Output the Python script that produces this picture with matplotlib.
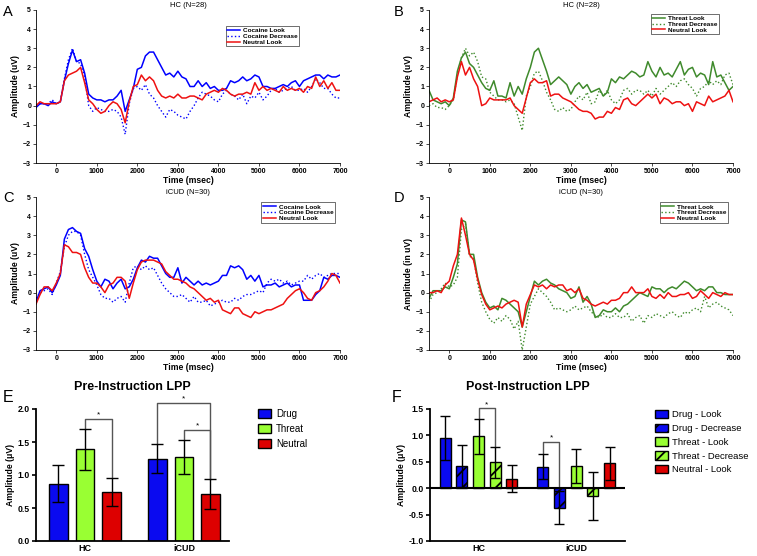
import numpy as np
import matplotlib
matplotlib.use("Agg")
import matplotlib.pyplot as plt
from matplotlib.patches import Patch

plt.rcParams["font.family"] = ["Liberation Sans", "DejaVu Sans"]
plt.rcParams["hatch.linewidth"] = 1.3

# sample times of the ERP waveforms (msec)
TIME_MS = list(range(-500, 7001, 100))

# panel A - HC, cocaine
A_COC_LOOK = [-0.1, 0.1, 0.1, 0.0, 0.2, 0.1, 0.2, 1.3, 2.2, 2.9,
              2.3, 2.4, 1.7, 0.6, 0.4, 0.3, 0.3, 0.2, 0.3, 0.3,
              0.5, 0.8, -0.3, 0.3, 0.9, 1.9, 2.0, 2.6, 2.8, 2.8,
              2.4, 2.0, 1.6, 1.7, 1.5, 1.8, 1.5, 1.4, 1.0, 1.0,
              1.3, 1.0, 1.2, 0.9, 1.0, 0.8, 0.8, 0.9, 1.3, 1.2,
              1.3, 1.5, 1.3, 1.4, 1.6, 1.5, 1.0, 1.0, 0.9, 0.9,
              1.0, 1.1, 1.0, 1.2, 1.3, 1.0, 1.3, 1.4, 1.5, 1.6,
              1.6, 1.4, 1.6, 1.5, 1.5, 1.6]
A_COC_DEC = [0.0, 0.1, 0.1, 0.1, 0.3, 0.1, 0.2, 1.4, 2.4, 3.0,
             2.3, 2.2, 1.5, 0.0, -0.3, -0.1, -0.2, -0.3, -0.3, -0.2,
             -0.3, -0.6, -1.5, 0.1, 0.9, 1.0, 0.8, 1.1, 0.6, 0.4,
             0.0, -0.3, -0.6, -0.2, -0.3, -0.5, -0.6, -0.7, -0.3, 0.0,
             0.4, 0.7, 0.6, 0.5, 0.3, 0.2, 0.6, 0.8, 0.6, 0.5,
             0.3, 0.6, 0.1, 0.5, 0.4, 0.7, 0.3, 0.5, 0.8, 0.9,
             0.7, 0.8, 0.9, 1.0, 0.8, 0.8, 0.9, 0.7, 1.0, 1.4,
             1.2, 0.9, 0.9, 0.6, 0.4, 0.4]
A_NEU_LOOK = [0.0, 0.2, 0.1, 0.1, 0.1, 0.1, 0.2, 1.3, 1.6, 1.7,
              1.8, 2.0, 1.2, 0.3, 0.1, -0.2, -0.4, -0.3, 0.0, 0.2,
              0.1, -0.2, -0.9, 0.2, 1.0, 1.1, 1.6, 1.3, 1.5, 1.3,
              0.8, 0.5, 0.4, 0.5, 0.4, 0.6, 0.4, 0.4, 0.5, 0.5,
              0.4, 0.3, 0.6, 0.7, 0.8, 0.7, 0.9, 0.8, 0.6, 0.5,
              0.6, 0.6, 0.7, 0.6, 1.2, 0.8, 1.0, 0.8, 0.9, 0.8,
              0.7, 1.0, 0.8, 0.9, 0.8, 0.9, 0.7, 1.0, 0.9, 1.5,
              1.0, 1.3, 0.9, 1.2, 0.8, 0.8]

# panel B - HC, threat
B_THR_LOOK = [0.8, 0.3, 0.2, 0.1, 0.2, 0.0, 0.4, 1.8, 2.5, 2.8,
              2.2, 2.0, 1.6, 1.2, 0.9, 0.8, 1.3, 0.5, 0.5, 0.4,
              1.2, 0.5, 1.0, 0.6, 1.4, 2.0, 2.8, 3.0, 2.4, 1.8,
              1.1, 1.3, 1.5, 1.3, 1.1, 0.6, 1.0, 1.2, 0.9, 1.1,
              0.7, 0.8, 0.9, 0.5, 0.7, 1.4, 1.2, 1.5, 1.4, 1.6,
              1.8, 1.7, 1.5, 1.6, 2.3, 1.8, 1.5, 2.0, 1.6, 1.7,
              1.5, 1.9, 2.3, 1.6, 1.9, 2.0, 1.5, 1.7, 1.6, 1.1,
              2.3, 1.5, 1.6, 1.2, 0.8, 1.0]
B_THR_DEC = [0.0, 0.1, -0.1, -0.1, -0.2, 0.0, 0.3, 1.6, 2.5, 3.0,
             2.6, 2.8, 2.3, 1.5, 1.4, 0.7, 0.5, 0.3, 0.3, 0.2,
             0.3, 0.1, -0.6, -1.3, 0.5, 1.0, 1.7, 1.8, 1.3, 0.7,
             0.3, -0.2, -0.3, -0.1, -0.3, -0.2, 0.2, 0.5, 0.3, 0.7,
             0.1, 0.2, 0.8, 0.5, 0.8, 0.3, 0.1, 0.3, 0.8, 0.9,
             0.6, 0.8, 0.8, 0.6, 0.8, 0.5, 0.9, 0.6, 0.8, 1.0,
             1.2, 1.0, 1.3, 1.4, 1.1, 0.9, 0.5, 0.9, 1.0, 1.3,
             1.1, 1.3, 1.1, 1.6, 1.7, 1.1]
B_NEU_LOOK = [0.2, 0.3, 0.4, 0.2, 0.3, 0.2, 0.3, 1.5, 2.3, 1.6,
              2.0, 1.4, 1.0, 0.0, 0.1, 0.4, 0.3, 0.3, 0.3, 0.3,
              0.4, 0.0, -0.2, -0.4, 0.4, 1.2, 1.4, 1.2, 1.2, 1.3,
              0.5, 0.6, 0.6, 0.4, 0.3, 0.2, 0.0, -0.2, -0.3, -0.3,
              -0.4, -0.7, -0.6, -0.6, -0.3, -0.4, -0.1, -0.2, 0.3, 0.4,
              0.1, 0.0, 0.2, 0.4, 0.6, 0.4, 0.6, 0.1, 0.4, 0.3,
              0.1, 0.2, 0.2, 0.0, 0.1, -0.3, 0.2, 0.1, 0.0, 0.5,
              0.2, 0.3, 0.4, 0.5, 0.8, 0.2]

# panel C - iCUD, cocaine
C_COC_LOOK = [-0.5, 0.1, 0.2, 0.3, 0.0, 0.4, 0.9, 2.8, 3.3, 3.4,
              3.2, 3.1, 2.3, 1.9, 1.2, 0.6, 0.3, 0.7, 0.6, 0.2,
              0.5, 0.7, 0.2, 0.3, 0.7, 1.3, 1.7, 1.6, 1.9, 1.8,
              1.8, 1.4, 1.0, 0.8, 0.8, 1.3, 0.5, 0.8, 0.6, 0.4,
              0.6, 0.4, 0.5, 0.4, 0.5, 0.6, 0.9, 0.9, 1.4, 1.3,
              1.4, 1.2, 0.7, 0.9, 0.6, 0.9, 0.3, 0.4, 0.4, 0.5,
              0.3, 0.4, 0.5, 0.3, 0.4, 0.4, -0.4, -0.4, -0.4, -0.1,
              0.1, 0.8, 0.7, 0.9, 0.9, 0.8]
C_COC_DEC = [-0.3, 0.0, 0.1, 0.2, -0.1, 0.5, 1.1, 2.4, 3.0, 3.2,
             3.2, 3.0, 2.0, 1.2, 0.8, 0.4, -0.1, -0.3, -0.3, -0.5,
             -0.3, -0.2, -0.5, 0.5, 1.3, 1.4, 1.2, 1.4, 1.2, 1.3,
             0.9, 0.5, 0.2, 0.0, -0.2, -0.2, -0.1, -0.3, -0.5, -0.2,
             -0.5, -0.5, -0.4, -0.7, -0.6, -0.5, -0.4, -0.5, -0.5, -0.3,
             -0.4, -0.2, -0.1, -0.1, 0.0, 0.1, 0.0, 0.5, 0.7, 0.6,
             0.7, 0.5, 0.6, 0.4, 0.5, 0.6, 0.6, 0.9, 0.7, 0.9,
             1.0, 0.8, 0.9, 1.0, 1.0, 1.0]
C_NEU_LOOK = [-0.6, -0.1, 0.3, 0.3, 0.1, 0.5, 1.0, 2.5, 2.4, 2.1,
              2.1, 2.0, 1.3, 0.8, 0.5, 0.5, 0.3, 0.0, 0.4, 0.5,
              0.8, 0.8, 0.6, -0.3, 0.5, 1.2, 1.6, 1.7, 1.7, 1.7,
              1.6, 1.5, 1.1, 0.9, 0.7, 0.7, 0.6, 0.5, 0.3, 0.2,
              0.0, -0.2, -0.4, -0.3, -0.5, -0.4, -0.9, -1.0, -1.1, -0.8,
              -0.8, -1.1, -1.2, -1.3, -1.0, -1.1, -1.0, -0.9, -0.9, -0.8,
              -0.7, -0.6, -0.3, -0.1, 0.1, 0.2, 0.0, -0.3, -0.4, 0.0,
              0.1, 0.3, 0.6, 1.0, 0.9, 0.5]

# panel D - iCUD, threat
D_THR_LOOK = [-0.3, 0.1, 0.1, 0.1, 0.3, 0.2, 0.8, 1.5, 3.8, 3.7,
              2.0, 2.0, 0.8, 0.0, -0.5, -0.8, -0.7, -0.9, -0.3, -0.4,
              -0.6, -0.8, -1.0, -1.8, -1.0, -0.2, 0.6, 0.4, 0.6, 0.7,
              0.5, 0.4, 0.2, 0.1, 0.0, -0.3, -0.2, 0.3, -0.5, -0.2,
              -0.6, -1.3, -1.2, -0.9, -1.0, -1.0, -0.8, -1.0, -0.7, -0.6,
              -0.4, -0.2, 0.0, -0.1, -0.2, 0.3, 0.2, 0.2, 0.0, 0.2,
              0.3, 0.2, 0.4, 0.6, 0.5, 0.3, 0.1, 0.2, 0.1, 0.3,
              0.3, 0.0, 0.0, -0.1, -0.1, -0.1]
D_THR_DEC = [-0.5, -0.1, 0.0, 0.2, 0.5, 0.3, 0.4, 0.8, 3.3, 3.6,
             1.9, 1.8, 0.5, -0.5, -1.0, -1.4, -1.6, -1.3, -1.5, -1.2,
             -1.4, -1.9, -1.5, -3.0, -1.8, -0.6, -0.2, 0.2, 0.0, -0.2,
             -0.5, -0.9, -0.8, -0.9, -1.0, -0.9, -0.7, -0.9, -0.8, -0.7,
             -1.0, -1.2, -1.3, -1.1, -1.3, -1.3, -1.1, -1.3, -1.3, -1.1,
             -1.5, -1.3, -1.2, -1.6, -1.2, -1.3, -1.1, -1.2, -1.3, -1.1,
             -1.0, -1.2, -1.3, -1.0, -1.1, -0.9, -0.8, -1.0, -0.2, -0.8,
             -0.6, -0.5, -0.7, -0.8, -0.9, -1.2]
D_NEU_LOOK = [0.0, 0.0, 0.1, 0.0, 0.4, 0.6, 1.4, 2.0, 3.9, 3.0,
              2.0, 1.7, 0.7, -0.1, -0.6, -0.9, -0.8, -0.7, -0.8, -0.6,
              -0.5, -0.4, -0.5, -1.8, -0.6, -0.1, 0.4, 0.3, 0.4, 0.2,
              0.4, 0.3, 0.4, 0.4, 0.1, 0.2, 0.0, 0.2, -0.3, -0.4,
              -0.6, -0.7, -0.6, -0.5, -0.6, -0.4, -0.4, -0.3, 0.0, 0.0,
              0.3, 0.0, 0.0, 0.0, 0.2, -0.2, -0.3, -0.1, -0.3, 0.0,
              -0.2, -0.2, -0.1, -0.1, 0.0, -0.3, -0.2, 0.1, -0.1, -0.3,
              0.0, -0.1, -0.2, 0.0, -0.1, -0.1]

# bar panels
GROUPS = ["HC", "iCUD"]
PRE_LABELS = ["Drug", "Threat", "Neutral"]
PRE_MEAN = {"HC": [0.87, 1.39, 0.74], "iCUD": [1.25, 1.27, 0.71]}
PRE_SEM = {"HC": [0.28, 0.31, 0.21], "iCUD": [0.22, 0.26, 0.23]}

POST_LABELS = ["Drug - Look", "Drug - Decrease", "Threat - Look",
               "Threat - Decrease", "Neutral - Look"]
POST_MEAN = {"HC": [0.95, 0.42, 0.98, 0.49, 0.18],
             "iCUD": [0.41, -0.37, 0.42, -0.15, 0.47]}
POST_SEM = {"HC": [0.41, 0.39, 0.34, 0.29, 0.25],
            "iCUD": [0.24, 0.31, 0.32, 0.46, 0.31]}

BLUE = "#0000ff"
RED = "#ee1111"
GREEN = "#3f8a2c"
BAR_BLUE = "#0a0af0"
BAR_GREEN = "#99ff33"
BAR_RED = "#dd0000"

W, H = 757, 556
fig = plt.figure(figsize=(W / 100, H / 100), dpi=100)
fig.patch.set_facecolor("white")


def px_axes(x0, y0, x1, y1):
    return fig.add_axes([x0 / W, 1 - y1 / H, (x1 - x0) / W, (y1 - y0) / H])


def erp_panel(ax, title, traces, ylabel, leg_anchor):
    t = np.array(TIME_MS)
    for vals, color, ls, lab in traces:
        ax.plot(t, vals, color=color, ls=ls, lw=1.1 if ls == "-" else 1.0, label=lab)
    ax.set_xlim(-500, 7000)
    ax.set_ylim(-3, 5)
    ax.set_xticks(range(0, 7001, 1000))
    ax.set_yticks(range(-3, 6))
    for s in ("top", "right"):
        ax.spines[s].set_visible(False)
    for s in ("left", "bottom"):
        ax.spines[s].set_linewidth(0.6)
    ax.tick_params(labelsize=5.0, length=2, width=0.5, pad=1.5)
    for lab in ax.get_xticklabels() + ax.get_yticklabels():
        lab.set_fontweight("bold")
    ax.set_title(title, fontsize=5.5, pad=2)
    ax.set_xlabel("Time (msec)", fontsize=6.2, fontweight="bold", labelpad=1)
    ax.set_ylabel(ylabel, fontsize=6.2, fontweight="bold", labelpad=2)
    leg = ax.legend(loc="upper right", bbox_to_anchor=leg_anchor, fontsize=4.6,
                    frameon=True, fancybox=False, handlelength=2.0,
                    borderpad=0.25, labelspacing=0.05, handletextpad=0.5)
    leg.get_frame().set_edgecolor("black")
    leg.get_frame().set_linewidth(0.5)
    for txt in leg.get_texts():
        txt.set_fontweight("bold")


axA = px_axes(36, 10, 340, 163)
erp_panel(axA, "HC (N=28)",
          [(A_COC_LOOK, BLUE, "-", "Cocaine Look"),
           (A_COC_DEC, BLUE, ":", "Cocaine Decrease"),
           (A_NEU_LOOK, RED, "-", "Neutral Look")],
          "Amplitude (uV)", (0.877, 0.915))

axB = px_axes(429, 10, 733, 163)
erp_panel(axB, "HC (N=28)",
          [(B_THR_LOOK, GREEN, "-", "Threat Look"),
           (B_THR_DEC, GREEN, ":", "Threat Decrease"),
           (B_NEU_LOOK, RED, "-", "Neutral Look")],
          "Amplitude (uV)", (0.965, 0.995))

axC = px_axes(36, 197, 340, 350)
erp_panel(axC, "iCUD (N=30)",
          [(C_COC_LOOK, BLUE, "-", "Cocaine Look"),
           (C_COC_DEC, BLUE, ":", "Cocaine Decrease"),
           (C_NEU_LOOK, RED, "-", "Neutral Look")],
          "Amplitude (uV)", (0.995, 0.985))

axD = px_axes(429, 197, 733, 350)
erp_panel(axD, "iCUD (N=30)",
          [(D_THR_LOOK, GREEN, "-", "Threat Look"),
           (D_THR_DEC, GREEN, ":", "Threat Decrease"),
           (D_NEU_LOOK, RED, "-", "Neutral Look")],
          "Amplitude (in uV)", (0.995, 0.985))


def bar_axes_style(ax, yticks):
    for s in ("top", "right"):
        ax.spines[s].set_visible(False)
    for s in ("left", "bottom"):
        ax.spines[s].set_linewidth(1.3)
    ax.set_xticks(range(len(GROUPS)))
    ax.set_xticklabels(GROUPS, fontsize=6.5, fontweight="bold")
    ax.set_yticks(yticks)
    ax.set_yticklabels([f"{v:.1f}" for v in yticks], fontsize=6.2, fontweight="bold")
    ax.tick_params(axis="x", length=0, pad=2)
    ax.tick_params(axis="y", length=3, width=1.2, pad=1.5)
    ax.set_ylabel("Amplitude (\u03bcV)", fontsize=6.2, fontweight="bold", labelpad=2)


def bracket(ax, x1, x2, y1, y2, ytop, color="#555555"):
    ax.plot([x1, x1, x2, x2], [y1, ytop, ytop, y2], color=color, lw=1.0, clip_on=False)
    ax.text((x1 + x2) / 2, ytop + 0.01, "*", ha="center", va="bottom", fontsize=6,
            clip_on=False)


# E - pre-instruction
axE = px_axes(36, 409, 229, 541)
pre_colors = [BAR_BLUE, BAR_GREEN, BAR_RED]
pre_off = [-0.268, 0.0, 0.268]
for gi, g in enumerate(GROUPS):
    for k in range(3):
        axE.bar(gi + pre_off[k], PRE_MEAN[g][k], width=0.19, color=pre_colors[k],
                edgecolor="black", linewidth=1.0, zorder=2)
        axE.errorbar(gi + pre_off[k], PRE_MEAN[g][k], yerr=PRE_SEM[g][k], fmt="none",
                     ecolor="black", elinewidth=1.0, capsize=4, capthick=1.0, zorder=3)
axE.set_xlim(-0.495, 1.455)
axE.set_ylim(0, 2.0)
bar_axes_style(axE, [0.0, 0.5, 1.0, 1.5, 2.0])
top = lambda g, k: PRE_MEAN[g][k] + PRE_SEM[g][k]
bracket(axE, pre_off[1], pre_off[2], top("HC", 1), top("HC", 2), 1.85)
bracket(axE, 1 + pre_off[0], 1 + pre_off[2], top("iCUD", 0), top("iCUD", 2), 2.09)
bracket(axE, 1 + pre_off[1], 1 + pre_off[2], top("iCUD", 1), top("iCUD", 2), 1.675)
axE.set_title("Pre-Instruction LPP", fontsize=9, fontweight="bold", pad=14)
axE.legend(handles=[Patch(facecolor=c, edgecolor="black", linewidth=1.0) for c in pre_colors],
           labels=PRE_LABELS, loc="upper left", bbox_to_anchor=(258 / W, 1 - 409 / H),
           bbox_transform=fig.transFigure, frameon=False, fontsize=7,
           handlelength=1.35, handleheight=1.0, labelspacing=0.5,
           handletextpad=0.5, borderpad=0, borderaxespad=0)

# F - post-instruction
axF = px_axes(430, 409, 625, 541)
post_colors = [BAR_BLUE, BAR_BLUE, BAR_GREEN, BAR_GREEN, BAR_RED]
post_hatch = [None, "//", None, "//", None]
post_off = [-0.342, -0.171, 0.0, 0.171, 0.342]
for gi, g in enumerate(GROUPS):
    for k in range(5):
        axF.bar(gi + post_off[k], POST_MEAN[g][k], width=0.113, color=post_colors[k],
                edgecolor="black", linewidth=1.0, hatch=post_hatch[k], zorder=2)
        axF.errorbar(gi + post_off[k], POST_MEAN[g][k], yerr=POST_SEM[g][k], fmt="none",
                     ecolor="black", elinewidth=1.0, capsize=3.5, capthick=1.0, zorder=3)
axF.axhline(0, color="black", lw=1.5, zorder=4)
axF.set_xlim(-0.497, 1.5)
axF.set_ylim(-1.0, 1.5)
bar_axes_style(axF, [-1.0, -0.5, 0.0, 0.5, 1.0, 1.5])
ptop = lambda g, k: POST_MEAN[g][k] + POST_SEM[g][k]
bracket(axF, post_off[2], post_off[3], ptop("HC", 2), ptop("HC", 3), 1.51)
bracket(axF, 1 + post_off[0], 1 + post_off[1], ptop("iCUD", 0), 0.0, 0.88)
axF.set_title("Post-Instruction LPP", fontsize=9, fontweight="bold", pad=14)
axF.legend(handles=[Patch(facecolor=c, edgecolor="black", linewidth=1.0, hatch=h)
                    for c, h in zip(post_colors, post_hatch)],
           labels=POST_LABELS, loc="upper left", bbox_to_anchor=(655 / W, 1 - 410 / H),
           bbox_transform=fig.transFigure, frameon=False, fontsize=6.8,
           handlelength=1.35, handleheight=1.0, labelspacing=0.45,
           handletextpad=0.5, borderpad=0, borderaxespad=0)

# panel letters
for lab, x, y in [("A", 3, 16), ("B", 394, 16), ("C", 3, 202), ("D", 394, 202),
                  ("E", 3, 402), ("F", 392, 402)]:
    fig.text(x / W, 1 - y / H, lab, fontsize=10.5 if lab in "ABCD" else 11.5,
             ha="left", va="baseline")

fig.savefig("out.png", dpi=100, facecolor="white")
